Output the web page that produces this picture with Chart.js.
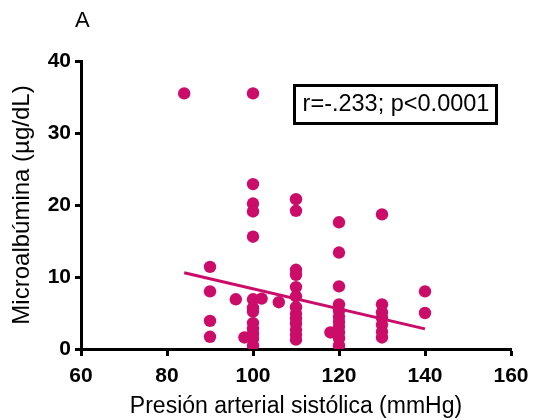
<!DOCTYPE html>
<html><head><meta charset="utf-8">
<script src="https://cdn.jsdelivr.net/npm/chart.js@4/dist/chart.umd.min.js"></script>
<style>html,body{margin:0;padding:0;background:#fff}canvas{display:block}</style>
</head><body>
<canvas id="c" width="533" height="420"></canvas>
<script>
const sbp = [84, 90, 90, 90, 90, 96, 98,
  100, 100, 100, 100, 100, 100, 100, 100, 100, 100, 100, 100, 100,
  102, 106,
  110, 110, 110, 110, 110, 110, 110, 110, 110, 110, 110, 110, 110,
  118,
  120, 120, 120, 120, 120, 120, 120, 120, 120, 120, 120,
  130, 130, 130, 130, 130, 130, 130,
  140, 140];
const microalb = [35.5, 11.4, 8.0, 3.9, 1.7, 6.9, 1.6,
  35.5, 22.9, 20.2, 19.1, 15.6, 6.9, 5.7, 5.2, 3.6, 2.8, 2.1, 1.4, 0.5,
  7.0, 6.5,
  20.8, 19.2, 11.0, 10.3, 8.6, 7.3, 5.8, 4.9, 4.2, 3.5, 2.7, 2.0, 1.3,
  2.3,
  17.6, 13.4, 8.7, 6.2, 5.3, 4.5, 3.8, 3.1, 2.3, 1.5, 0.5,
  18.7, 6.2, 5.1, 4.3, 3.4, 2.4, 1.6,
  8.0, 5.0];
const fitX = [84, 140];
const fitY = [10.6, 2.8];
const xTicks = [60, 80, 100, 120, 140, 160];
const yTicks = [0, 10, 20, 30, 40];
const panelLabel = 'A';
const statText = 'r=-.233; p<0.0001';

const color = '#cc0c69';
const FONT = '"Liberation Sans", Arial, sans-serif';
const pts = sbp.map((x, i) => ({x: x, y: microalb[i]}));
const fit = fitX.map((x, i) => ({x: x, y: fitY[i]}));

const annot = {
  id: 'annot',
  afterDraw(chart) {
    const ctx = chart.ctx;
    ctx.save();
    ctx.fillStyle = '#000';
    ctx.font = '22px ' + FONT;
    ctx.textBaseline = 'middle';
    ctx.textAlign = 'left';
    ctx.fillText(panelLabel, 75, 21);
    ctx.lineWidth = 3;
    ctx.strokeStyle = '#000';
    ctx.strokeRect(294.5, 85.5, 202, 38);
    ctx.font = '23.5px ' + FONT;
    ctx.textAlign = 'center';
    ctx.fillText(statText, 396, 105);
    ctx.restore();
  }
};

new Chart(document.getElementById('c'), {
  type: 'scatter',
  data: {
    datasets: [
      {data: pts, backgroundColor: color, borderWidth: 0, pointRadius: 6.2, pointHoverRadius: 6.2},
      {type: 'line', data: fit, borderColor: color, borderWidth: 3, pointRadius: 0, fill: false}
    ]
  },
  options: {
    responsive: false,
    animation: false,
    events: [],
    layout: {padding: {top: 61, right: 22, left: 0, bottom: 0}},
    plugins: {legend: {display: false}, tooltip: {enabled: false}},
    scales: {
      x: {
        type: 'linear', min: 60, max: 160,
        afterBuildTicks: s => { s.ticks = xTicks.map(v => ({value: v})); },
        afterFit: s => { s.height = 71; s.paddingLeft = 0; s.paddingRight = 0; },
        border: {display: true, color: '#000', width: 3},
        grid: {display: true, drawOnChartArea: false, drawTicks: true, tickLength: 7, tickWidth: 3, color: '#000'},
        ticks: {color: '#000', padding: 8, font: {family: FONT, size: 21, weight: 'bold'}, maxRotation: 0},
        title: {display: true, text: 'Presión arterial sistólica (mmHg)', color: '#000', font: {family: FONT, size: 23}, padding: {top: 0, bottom: 0}}
      },
      y: {
        type: 'linear', min: 0, max: 40,
        afterBuildTicks: s => { s.ticks = yTicks.map(v => ({value: v})); },
        afterFit: s => { s.width = 81; s.paddingTop = 0; s.paddingBottom = 0; },
        border: {display: true, color: '#000', width: 3},
        grid: {display: true, drawOnChartArea: false, drawTicks: true, tickLength: 6, tickWidth: 3, color: '#000'},
        ticks: {color: '#000', padding: 4, font: {family: FONT, size: 21, weight: 'bold'}},
        title: {display: true, text: 'Microalbúmina (µg/dL)', color: '#000', font: {family: FONT, size: 24}, padding: {top: 8, bottom: 0}}
      }
    }
  },
  plugins: [annot]
});
</script>
</body></html>
